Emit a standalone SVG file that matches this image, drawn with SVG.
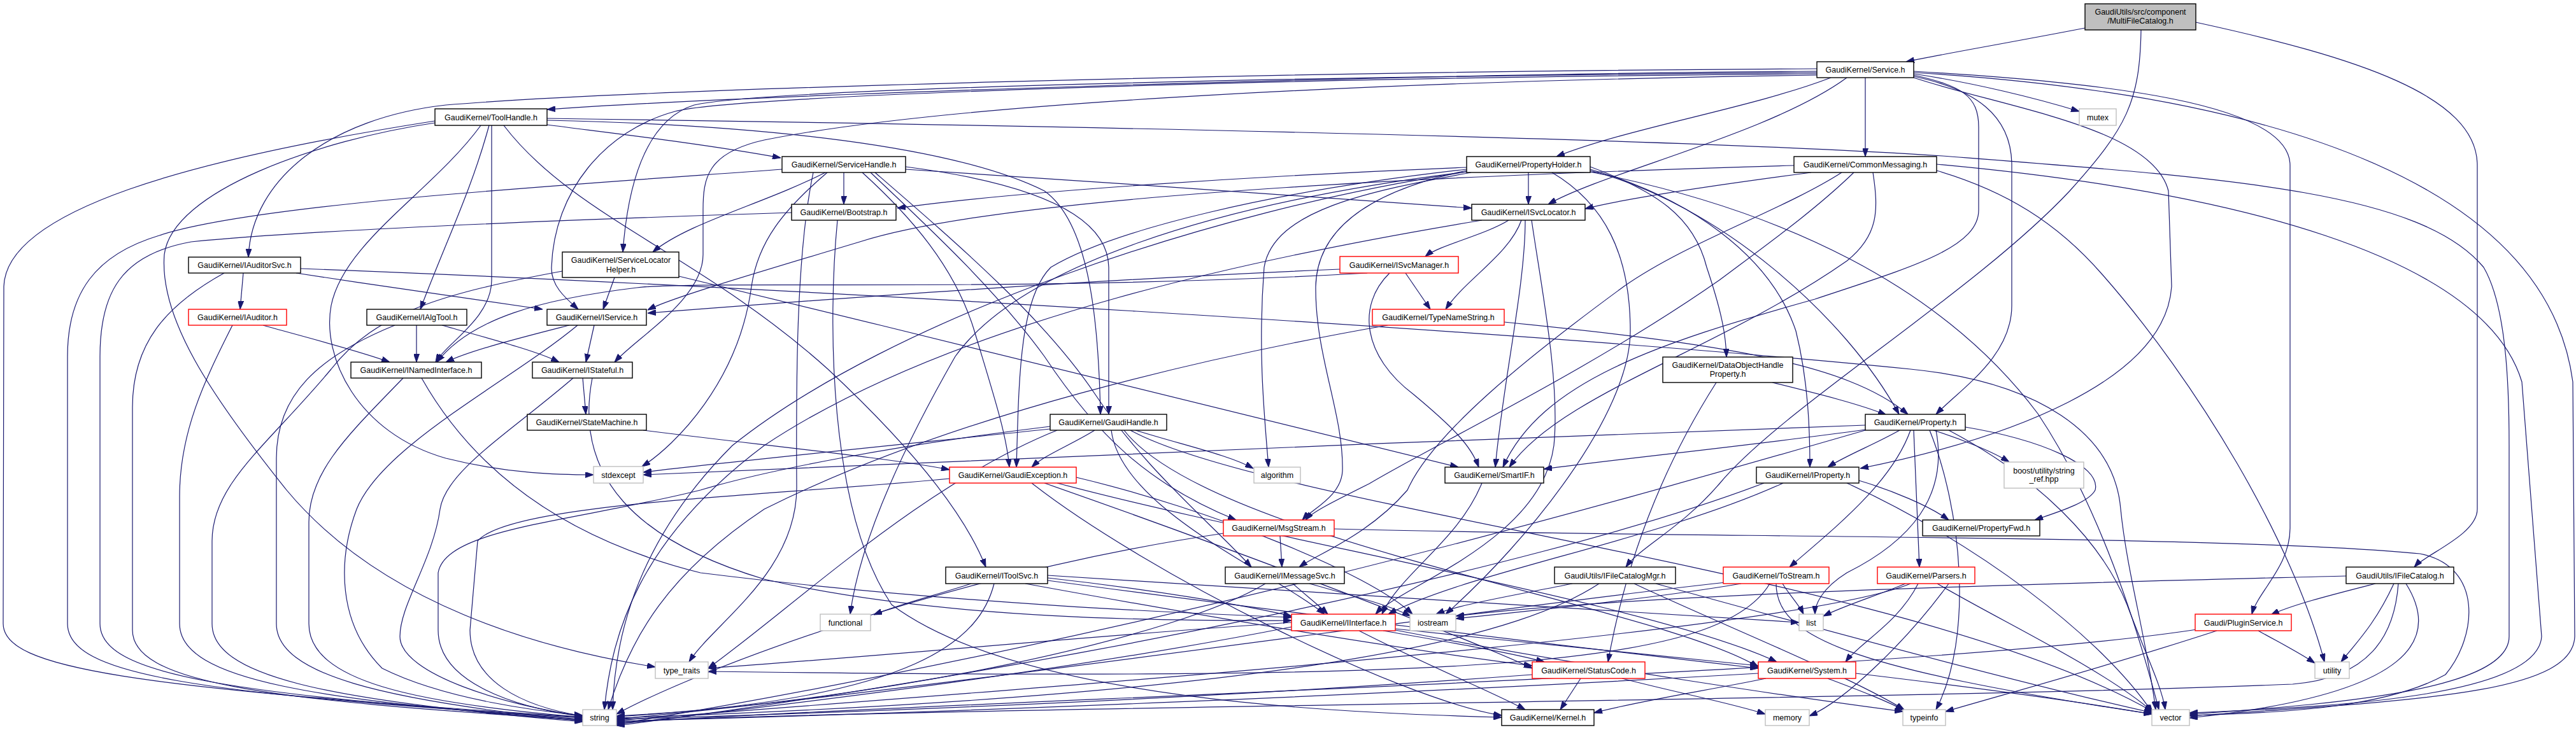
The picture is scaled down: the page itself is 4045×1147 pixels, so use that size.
<svg xmlns="http://www.w3.org/2000/svg" width="4045" height="1147" viewBox="0 0 4045 1147">
<defs>
<marker id="a" markerWidth="13" markerHeight="9" refX="13" refY="4.5" orient="auto" markerUnits="userSpaceOnUse"><path d="M0,0 L13,4.5 L0,9 z" fill="#191970" stroke="#191970" stroke-width="1"/></marker>
</defs>
<style>
.n rect{fill:#ffffff;stroke:#000000;stroke-width:1.4}
.r rect{fill:#ffffff;stroke:#ff0000;stroke-width:1.4}
.g rect{fill:#ffffff;stroke:#bfbfbf;stroke-width:1.4}
.root rect{fill:#bfbfbf;stroke:#000000;stroke-width:1.4}
text{font-family:"Liberation Sans",Arial,Helvetica,sans-serif;font-size:12.5px;text-anchor:middle;fill:#000000}
.e path{fill:none;stroke:#191970;stroke-width:1.2;marker-end:url(#a)}
</style>
<rect width="4045" height="1147" fill="#ffffff"/>
<g id="edges" class="e">
<path d="M3274,44 C3150,68 3050,85 2993,97"/>
<path d="M3362,47 C3360,160 3340,200 3250,300 C3100,460 2800,640 2700,760 C2640,830 2575,860 2553,891"/>
<path d="M3448,35 C3700,90 3890,150 3890,260 L3890,800 C3890,840 3810,870 3791,891"/>
<path d="M2853,112 C2200,116 1200,148 859,172"/>
<path d="M3005,116 C3100,130 3200,155 3265,175"/>
<path d="M2875,122 C2750,170 2560,200 2444,246"/>
<path d="M2929,122 L2929,246"/>
<path d="M2900,122 C2780,210 2520,270 2431,321"/>
<path d="M2853,108 C2000,112 1000,140 700,165 C520,185 395,280 390,404"/>
<path d="M2853,114 C2000,120 1200,140 1090,165 C1010,190 985,300 978,396"/>
<path d="M2853,116 C2000,122 1150,150 1060,175 C950,205 870,300 866,420 C865,450 890,470 908,486"/>
<path d="M2853,118 C2200,127 1500,160 1200,220 C1110,240 1104,280 1104,330 L1104,400 C1104,470 1000,530 965,569"/>
<path d="M3005,120 C3100,140 3159,180 3159,260 L3159,480 C3159,560 3080,610 3040,651"/>
<path d="M3005,122 C3150,170 3380,200 3405,300 L3410,450 C3400,600 3150,690 2921,736"/>
<path d="M3005,118 C3080,135 3107,150 3107,200 L3107,330 C3107,390 3000,420 2850,470 C2600,540 2420,600 2360,734"/>
<path d="M3005,112 C3300,130 3596,160 3596,260 L3596,830 C3596,890 3545,930 3536,965"/>
<path d="M3005,114 C3600,150 4000,300 4040,600 L4043,1000 C4040,1090 3800,1100 3438,1125"/>
<path d="M859,196 C950,208 1100,225 1226,248"/>
<path d="M859,186 C1500,195 2600,215 3050,245 C3500,280 3800,300 3900,420 C3935,480 3940,600 3940,700 L3940,1000 C3940,1080 3700,1105 3438,1122"/>
<path d="M859,189 C1200,196 1500,230 1640,300 C1710,350 1725,500 1728,651"/>
<path d="M768,197 C740,300 700,380 660,486"/>
<path d="M772,197 L772,440 C772,500 700,540 684,569"/>
<path d="M791,197 C900,340 1100,400 1300,580 C1450,720 1520,820 1548,891"/>
<path d="M755,197 C680,300 540,380 520,480 C505,560 560,680 700,720 C800,745 880,746 932,746"/>
<path d="M683,193 C500,220 270,300 258,400 C250,500 330,620 450,770 C600,950 850,1020 1029,1048"/>
<path d="M683,190 C300,250 10,330 6,450 L5,980 C5,1050 200,1080 915,1127"/>
<path d="M1325,271 L1325,321"/>
<path d="M1422,266 C1700,285 2100,310 2311,327"/>
<path d="M1422,262 C1600,285 1740,330 1741,420 L1741,651"/>
<path d="M1354,271 C1430,340 1500,420 1530,520 C1560,620 1580,680 1585,734"/>
<path d="M1367,271 C1450,350 1560,450 1640,560 C1720,680 1800,760 1941,817"/>
<path d="M1374,271 C1500,380 1640,500 1720,620 C1800,740 1900,820 1965,891"/>
<path d="M1296,271 C1200,320 1080,350 1025,396"/>
<path d="M1299,271 C1230,330 1190,380 1180,450 C1160,600 1060,700 1008,733"/>
<path d="M1228,266 C900,290 400,320 250,370 C150,400 106,460 106,560 L106,980 C106,1060 300,1090 915,1128"/>
<path d="M1277,271 C1250,400 1250,600 1251,766 C1251,900 1120,980 1082,1040"/>
<path d="M1243,334 C900,345 500,360 300,380 C190,400 157,460 157,560 L157,980 C157,1060 350,1090 915,1130"/>
<path d="M1315,346 C1300,500 1300,800 1400,950 C1600,1100 2100,1120 2358,1127"/>
<path d="M382,429 L377,486"/>
<path d="M465,429 C600,450 750,470 852,486"/>
<path d="M352,429 C260,480 208,540 208,640 L208,990 C208,1070 400,1100 915,1131"/>
<path d="M472,422 C1200,450 2400,520 3000,580 C3200,600 3320,680 3330,800 C3340,900 3370,1000 3385,1115"/>
<path d="M413,511 C480,530 560,550 612,569"/>
<path d="M365,511 C320,600 282,680 282,780 L282,980 C282,1070 500,1100 915,1132"/>
<path d="M654,511 L654,569"/>
<path d="M694,511 C760,530 840,550 878,569"/>
<path d="M620,511 C500,560 434,620 434,720 L434,980 C434,1060 600,1100 915,1133"/>
<path d="M894,511 C820,530 740,550 700,569"/>
<path d="M933,511 L920,569"/>
<path d="M907,511 C800,600 600,700 560,800 C530,880 530,980 600,1050 C700,1100 850,1118 915,1124"/>
<path d="M965,436 L947,486"/>
<path d="M883,426 C700,460 590,490 520,580 C420,700 333,760 333,850 L333,980 C333,1060 500,1100 915,1134"/>
<path d="M1066,434 C1500,540 2000,660 2290,734"/>
<path d="M2147,429 C1600,460 1100,440 1000,452 C850,470 740,500 686,569"/>
<path d="M2104,423 C1700,440 1300,470 1017,492"/>
<path d="M2207,429 L2246,486"/>
<path d="M2182,429 C2130,480 2140,560 2220,620 C2280,670 2310,700 2322,734"/>
<path d="M2179,511 C1900,560 1500,650 1200,800 C1050,900 990,1000 955,1115"/>
<path d="M2362,506 C2700,540 2900,570 2996,651"/>
<path d="M2369,346 C2330,370 2260,385 2238,403"/>
<path d="M2389,346 C2370,400 2300,440 2270,486"/>
<path d="M2395,346 C2395,450 2360,600 2348,734"/>
<path d="M2405,346 C2420,450 2450,600 2440,700 C2420,850 2200,920 2160,965"/>
<path d="M2327,346 C2000,400 1500,500 1200,700 C1000,850 960,1000 949,1115"/>
<path d="M2303,263 C2000,275 1600,300 1409,327"/>
<path d="M2400,271 L2400,321"/>
<path d="M2497,262 C2600,300 2660,340 2680,420 C2700,480 2710,520 2711,561"/>
<path d="M2497,266 C2650,310 2780,400 2820,520 C2840,600 2842,680 2842,734"/>
<path d="M2497,268 C2700,320 2900,500 2982,651"/>
<path d="M2497,270 C2800,330 3050,450 3200,650 C3300,800 3360,1000 3390,1115"/>
<path d="M2303,268 C2150,300 2068,360 2066,450 C2065,560 2110,650 2108,740 C2106,780 2060,800 2045,817"/>
<path d="M2303,266 C2000,300 1750,360 1650,420 C1600,470 1600,600 1596,734"/>
<path d="M2310,271 C2150,300 2000,330 1985,420 C1975,550 1985,650 1992,734"/>
<path d="M2303,270 C1900,320 1600,420 1500,560 C1420,700 1350,850 1335,965"/>
<path d="M2437,271 C2520,320 2560,400 2560,520 C2560,650 2400,850 2270,965"/>
<path d="M2303,270 C1900,330 1400,500 1150,700 C1000,850 965,1000 962,1115"/>
<path d="M2844,271 C2700,290 2560,310 2489,328"/>
<path d="M2817,260 C2400,272 1600,300 1350,380 C1150,440 1050,470 1017,487"/>
<path d="M2892,271 C2800,330 2650,380 2550,450 C2400,560 2250,680 2210,770 C2150,840 2070,870 2040,891"/>
<path d="M2911,271 C2850,330 2780,380 2700,440 C2500,580 2250,700 2150,760 C2090,790 2060,805 2050,817"/>
<path d="M2941,271 C2950,330 2950,370 2900,410 C2700,550 2450,620 2370,734"/>
<path d="M3041,268 C3150,300 3230,350 3300,430 C3450,600 3600,850 3650,1040"/>
<path d="M3041,258 C3500,300 3900,400 3960,600 L3991,1000 C3985,1090 3700,1110 3438,1120"/>
<path d="M1719,676 C1680,700 1640,715 1620,734"/>
<path d="M1783,676 C1860,700 1930,715 1968,736"/>
<path d="M1649,674 C1400,700 1150,725 1010,742"/>
<path d="M1649,670 C1400,700 1200,740 1100,770 C900,820 700,830 688,900 L688,990 C688,1070 800,1110 915,1126"/>
<path d="M1660,676 C1450,760 1250,950 1112,1050"/>
<path d="M1745,676 C1760,800 2000,900 2080,965"/>
<path d="M1765,676 C1900,850 2600,950 2761,1048"/>
<path d="M1775,676 C2000,800 3000,900 3380,1118"/>
<path d="M1491,752 C1200,780 800,790 750,850 L738,990 C738,1070 820,1110 915,1125"/>
<path d="M1640,759 C1900,850 2300,1000 2406,1050"/>
<path d="M1620,759 C1800,900 2200,1100 2358,1124"/>
<path d="M1660,759 C2000,850 2600,950 2790,1040"/>
<path d="M1690,750 C1900,800 2150,900 2218,965"/>
<path d="M1010,676 C1200,700 1400,720 1491,738"/>
<path d="M915,594 L920,651"/>
<path d="M900,594 C800,680 700,740 691,800 C680,880 628,950 628,1000 C628,1060 800,1110 915,1125"/>
<path d="M930,594 C900,750 1000,850 1200,910 C1500,980 1900,975 2028,975"/>
<path d="M662,594 C750,750 900,850 1100,900 C1500,950 1900,965 2028,970"/>
<path d="M633,594 C550,680 485,740 485,820 L485,980 C485,1070 650,1105 915,1127"/>
<path d="M2010,842 L2013,891"/>
<path d="M1921,838 C1500,900 1100,1050 968,1122"/>
<path d="M2095,831 C2600,845 3500,840 3800,870 C3900,890 3890,1000 3840,1060 C3750,1110 3600,1120 3438,1124"/>
<path d="M1525,917 C1470,935 1410,950 1372,966"/>
<path d="M1561,917 C1540,1000 1450,1100 968,1125"/>
<path d="M1645,908 C1800,925 1950,950 2028,968"/>
<path d="M1645,912 C2000,960 2500,1020 2761,1050"/>
<path d="M1645,904 C2000,925 2500,960 2825,978"/>
<path d="M1610,917 C1900,970 2200,1020 2406,1046"/>
<path d="M2030,917 C2050,935 2070,950 2085,965"/>
<path d="M2056,917 C2120,935 2180,950 2215,968"/>
<path d="M1987,917 C1850,1000 1400,1100 968,1126"/>
<path d="M2469,917 C2380,935 2290,950 2255,965"/>
<path d="M2511,917 C2400,990 2100,1090 968,1128"/>
<path d="M2566,917 C2700,980 2900,1060 2990,1115"/>
<path d="M2600,917 C2900,1000 3200,1080 3380,1120"/>
<path d="M2734,917 C2600,940 2400,960 2286,972"/>
<path d="M2799,917 C2810,935 2825,950 2832,965"/>
<path d="M2710,915 C2300,960 1500,1080 968,1130"/>
<path d="M2779,917 C2700,1050 2300,1070 1112,1055"/>
<path d="M2789,917 C2789,1000 2900,1050 3380,1122"/>
<path d="M2992,917 C2950,935 2900,950 2863,968"/>
<path d="M3012,917 C2980,980 2920,1010 2898,1040"/>
<path d="M3000,917 C2800,1000 1500,1090 968,1132"/>
<path d="M3042,917 C3150,980 3300,1050 3380,1118"/>
<path d="M3060,917 C3000,1000 2900,1100 2841,1125"/>
<path d="M3730,917 C3660,935 3600,950 3566,966"/>
<path d="M3759,917 C3730,980 3700,1010 3676,1040"/>
<path d="M3778,917 C3830,1000 3800,1090 3438,1128"/>
<path d="M3766,917 C3760,1000 3720,1065 3600,1075 C3000,1100 1500,1110 968,1134"/>
<path d="M3684,905 C3300,915 2600,930 2286,968"/>
<path d="M3546,991 C3580,1010 3610,1025 3635,1042"/>
<path d="M3481,991 C3300,1050 3150,1090 3055,1118"/>
<path d="M3456,988 C3000,1060 1500,1100 968,1136"/>
<path d="M3036,676 C3080,690 3130,710 3155,726"/>
<path d="M3086,671 C3200,690 3300,730 3290,770 C3280,790 3230,805 3195,817"/>
<path d="M2929,675 C2750,700 2550,720 2424,737"/>
<path d="M2983,676 C2940,700 2900,715 2870,734"/>
<path d="M2929,668 C2300,690 1600,720 1010,746"/>
<path d="M2929,676 C2500,800 1800,1000 968,1138"/>
<path d="M3000,676 C2970,760 2880,830 2810,891"/>
<path d="M3005,676 L3014,891"/>
<path d="M3040,676 C3060,780 3000,850 2900,900 C2860,925 2850,950 2850,965"/>
<path d="M3060,676 C3200,750 3300,850 3340,950 C3370,1030 3395,1080 3400,1115"/>
<path d="M3030,676 C3080,800 3100,1000 3040,1115"/>
<path d="M2919,755 C2970,770 3030,795 3060,817"/>
<path d="M2800,759 C2600,850 2300,900 2180,965"/>
<path d="M2770,759 C2400,900 1600,1060 968,1140"/>
<path d="M2900,759 C3100,850 3300,1000 3380,1120"/>
<path d="M2327,759 C2290,850 2200,900 2170,965"/>
<path d="M2783,601 C2860,620 2920,635 2962,652"/>
<path d="M2695,601 C2600,750 2550,900 2525,1040"/>
<path d="M2172,991 C2280,1010 2370,1025 2425,1040"/>
<path d="M2134,991 C2250,1050 2350,1090 2395,1115"/>
<path d="M2191,988 C2400,1010 2650,1035 2761,1046"/>
<path d="M2191,990 C2500,1050 2850,1100 2988,1118"/>
<path d="M2028,985 C1700,1050 1300,1100 968,1138"/>
<path d="M2028,978 C1700,1000 1400,1030 1112,1050"/>
<path d="M2482,1066 L2450,1115"/>
<path d="M2547,1066 C2640,1090 2720,1105 2772,1122"/>
<path d="M2406,1060 C2000,1090 1500,1115 968,1130"/>
<path d="M2773,1066 C2680,1085 2580,1100 2503,1120"/>
<path d="M2870,1066 C2920,1085 2960,1100 2990,1116"/>
<path d="M2761,1058 C2200,1090 1500,1120 968,1133"/>
<path d="M2914,1058 C3100,1080 3250,1100 3379,1122"/>
</g>
<g id="n_mfc" class="root"><rect x="3274" y="6" width="174" height="41"/><text x="3361" y="23">GaudiUtils/src/component</text><text x="3361" y="37">/MultiFileCatalog.h</text></g>
<g id="n_service" class="n"><rect x="2853" y="97" width="152" height="25"/><text x="2929" y="114">GaudiKernel/Service.h</text></g>
<g id="n_toolhandle" class="n"><rect x="683" y="171" width="176" height="26"/><text x="771" y="188.5">GaudiKernel/ToolHandle.h</text></g>
<g id="n_mutex" class="g"><rect x="3265" y="171" width="58" height="26"/><text x="3294" y="188.5">mutex</text></g>
<g id="n_servicehandle" class="n"><rect x="1228" y="246" width="194" height="25"/><text x="1325" y="263">GaudiKernel/ServiceHandle.h</text></g>
<g id="n_propertyholder" class="n"><rect x="2303" y="246" width="194" height="25"/><text x="2400" y="263">GaudiKernel/PropertyHolder.h</text></g>
<g id="n_commonmessaging" class="n"><rect x="2817" y="246" width="224" height="25"/><text x="2929" y="263">GaudiKernel/CommonMessaging.h</text></g>
<g id="n_bootstrap" class="n"><rect x="1243" y="321" width="164" height="25"/><text x="1325" y="338">GaudiKernel/Bootstrap.h</text></g>
<g id="n_isvclocator" class="n"><rect x="2311" y="321" width="178" height="25"/><text x="2400" y="338">GaudiKernel/ISvcLocator.h</text></g>
<g id="n_iauditorsvc" class="n"><rect x="296" y="404" width="176" height="25"/><text x="384" y="421">GaudiKernel/IAuditorSvc.h</text></g>
<g id="n_servicelocatorhelper" class="n"><rect x="883" y="396" width="183" height="40"/><text x="975" y="413">GaudiKernel/ServiceLocator</text><text x="975" y="428">Helper.h</text></g>
<g id="n_isvcmanager" class="r"><rect x="2104" y="403" width="186" height="26"/><text x="2197" y="420.5">GaudiKernel/ISvcManager.h</text></g>
<g id="n_iauditor" class="r"><rect x="296" y="486" width="154" height="25"/><text x="373" y="503">GaudiKernel/IAuditor.h</text></g>
<g id="n_ialgtool" class="n"><rect x="576" y="486" width="157" height="25"/><text x="654.5" y="503">GaudiKernel/IAlgTool.h</text></g>
<g id="n_iservice" class="n"><rect x="859" y="486" width="156" height="25"/><text x="937" y="503">GaudiKernel/IService.h</text></g>
<g id="n_typenamestring" class="r"><rect x="2155" y="486" width="207" height="25"/><text x="2258.5" y="503">GaudiKernel/TypeNameString.h</text></g>
<g id="n_dataobjecthandleproperty" class="n"><rect x="2611" y="561" width="204" height="40"/><text x="2713" y="578">GaudiKernel/DataObjectHandle</text><text x="2713" y="592">Property.h</text></g>
<g id="n_inamedinterface" class="n"><rect x="551" y="569" width="205" height="25"/><text x="653.5" y="586">GaudiKernel/INamedInterface.h</text></g>
<g id="n_istateful" class="n"><rect x="836" y="569" width="157" height="25"/><text x="914.5" y="586">GaudiKernel/IStateful.h</text></g>
<g id="n_statemachine" class="n"><rect x="828" y="651" width="187" height="25"/><text x="921.5" y="668">GaudiKernel/StateMachine.h</text></g>
<g id="n_gaudihandle" class="n"><rect x="1649" y="651" width="183" height="25"/><text x="1740.5" y="668">GaudiKernel/GaudiHandle.h</text></g>
<g id="n_property" class="n"><rect x="2929" y="651" width="157" height="25"/><text x="3007.5" y="668">GaudiKernel/Property.h</text></g>
<g id="n_stdexcept" class="g"><rect x="932" y="733" width="78" height="26"/><text x="971" y="750.5">stdexcept</text></g>
<g id="n_gaudiexception" class="r"><rect x="1491" y="734" width="199" height="25"/><text x="1590.5" y="751">GaudiKernel/GaudiException.h</text></g>
<g id="n_algorithm" class="g"><rect x="1969" y="734" width="73" height="25"/><text x="2005.5" y="751">algorithm</text></g>
<g id="n_smartif" class="n"><rect x="2269" y="734" width="155" height="25"/><text x="2346.5" y="751">GaudiKernel/SmartIF.h</text></g>
<g id="n_iproperty" class="n"><rect x="2758" y="734" width="161" height="25"/><text x="2838.5" y="751">GaudiKernel/IProperty.h</text></g>
<g id="n_stringref" class="g"><rect x="3147" y="726" width="125" height="41"/><text x="3209.5" y="744">boost/utility/string</text><text x="3209.5" y="757">_ref.hpp</text></g>
<g id="n_msgstream" class="r"><rect x="1921" y="817" width="174" height="25"/><text x="2008" y="834">GaudiKernel/MsgStream.h</text></g>
<g id="n_propertyfwd" class="n"><rect x="3019" y="817" width="184" height="25"/><text x="3111" y="834">GaudiKernel/PropertyFwd.h</text></g>
<g id="n_itoolsvc" class="n"><rect x="1485" y="891" width="160" height="26"/><text x="1565" y="908.5">GaudiKernel/IToolSvc.h</text></g>
<g id="n_imessagesvc" class="n"><rect x="1924" y="891" width="187" height="26"/><text x="2017.5" y="908.5">GaudiKernel/IMessageSvc.h</text></g>
<g id="n_ifilecatalogmgr" class="n"><rect x="2441" y="891" width="190" height="26"/><text x="2536" y="908.5">GaudiUtils/IFileCatalogMgr.h</text></g>
<g id="n_tostream" class="r"><rect x="2706" y="891" width="166" height="26"/><text x="2789" y="908.5">GaudiKernel/ToStream.h</text></g>
<g id="n_parsers" class="r"><rect x="2948" y="891" width="153" height="26"/><text x="3024.5" y="908.5">GaudiKernel/Parsers.h</text></g>
<g id="n_ifilecatalog" class="n"><rect x="3684" y="891" width="169" height="26"/><text x="3768.5" y="908.5">GaudiUtils/IFileCatalog.h</text></g>
<g id="n_functional" class="g"><rect x="1288" y="965" width="79" height="26"/><text x="1327.5" y="982.5">functional</text></g>
<g id="n_iinterface" class="r"><rect x="2028" y="965" width="163" height="26"/><text x="2109.5" y="982.5">GaudiKernel/IInterface.h</text></g>
<g id="n_iostream" class="g"><rect x="2214" y="965" width="72" height="26"/><text x="2250" y="982.5">iostream</text></g>
<g id="n_list" class="g"><rect x="2825" y="965" width="38" height="26"/><text x="2844" y="982.5">list</text></g>
<g id="n_pluginservice" class="r"><rect x="3447" y="965" width="151" height="26"/><text x="3522.5" y="982.5">Gaudi/PluginService.h</text></g>
<g id="n_type_traits" class="g"><rect x="1029" y="1040" width="83" height="26"/><text x="1070.5" y="1057.5">type_traits</text></g>
<g id="n_statuscode" class="r"><rect x="2406" y="1040" width="177" height="26"/><text x="2494.5" y="1057.5">GaudiKernel/StatusCode.h</text></g>
<g id="n_system" class="r"><rect x="2761" y="1040" width="153" height="26"/><text x="2837.5" y="1057.5">GaudiKernel/System.h</text></g>
<g id="n_utility" class="g"><rect x="3635" y="1040" width="54" height="26"/><text x="3662" y="1057.5">utility</text></g>
<g id="n_string" class="g"><rect x="915" y="1115" width="53" height="25"/><text x="941.5" y="1132">string</text></g>
<g id="n_kernel" class="n"><rect x="2358" y="1115" width="145" height="25"/><text x="2430.5" y="1132">GaudiKernel/Kernel.h</text></g>
<g id="n_memory" class="g"><rect x="2772" y="1115" width="69" height="25"/><text x="2806.5" y="1132">memory</text></g>
<g id="n_typeinfo" class="g"><rect x="2988" y="1115" width="67" height="25"/><text x="3021.5" y="1132">typeinfo</text></g>
<g id="n_vector" class="g"><rect x="3379" y="1115" width="59" height="25"/><text x="3408.5" y="1132">vector</text></g>
</svg>
